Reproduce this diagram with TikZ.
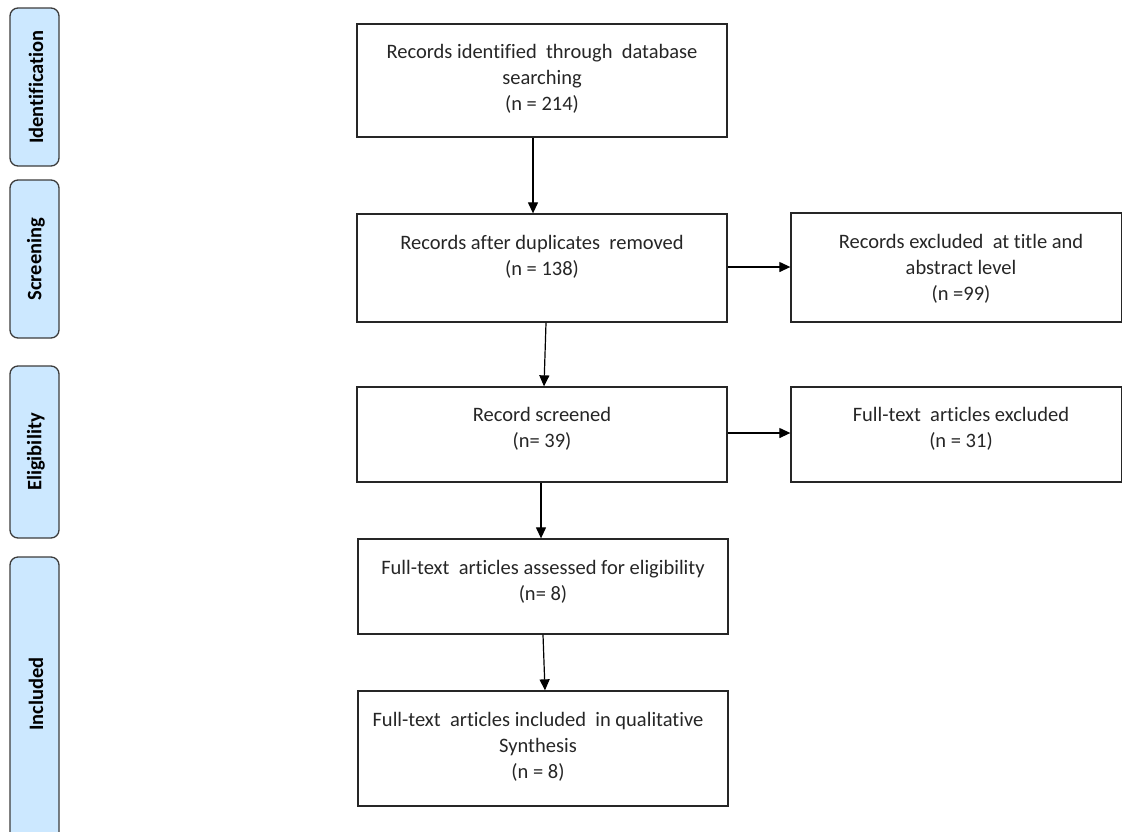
\documentclass[tikz,border=0pt]{standalone}
\usepackage{fontspec}
\setmainfont{Carlito}[RawFeature={-liga}]
\usetikzlibrary{arrows.meta}
\definecolor{phase}{HTML}{CCE8FF}
\definecolor{edgec}{HTML}{3C3C3C}
\definecolor{ink}{HTML}{262626}
\tikzset{
  phasebox/.style={draw=edgec, line width=1.3pt, fill=phase, rounded corners=8pt, minimum width=49pt, inner sep=0pt},
  phasetxt/.style={rotate=90, font=\bfseries\fontsize{20.5}{24}\selectfont, text=black, inner sep=0pt},
  box/.style={draw=black!85, line width=1.3pt, inner sep=0pt},
  txt/.style={align=center, font=\fontsize{20.5}{26}\selectfont, text=ink, inner sep=0pt},
  arr/.style={-{Triangle[length=11pt,width=10pt]}, line width=1.2pt, draw=black}
}
\begin{document}
\begin{tikzpicture}[x=1pt,y=-1pt]
\useasboundingbox (0,0) rectangle (1122,831);
% phase boxes
\node[phasebox, minimum height=158pt] (pid) at (34.5,87) {};
\node[phasetxt] (lid) at (36,87) {Identification};
\node[phasebox, minimum height=158pt] (psc) at (34.5,259) {};
\node[phasetxt] (lsc) at (36,259) {Screening};
\node[phasebox, minimum height=172pt] (pel) at (34.5,452) {};
\node[phasetxt] (lel) at (36,452) {Eligibility};
\node[phasebox, minimum height=290pt] (pin) at (34.5,702) {};
\node[phasetxt] (lin) at (36,694) {Included};
% main boxes
\node[box, minimum width=370pt, minimum height=113pt] (b1) at (542,80.5) {};
\node[txt] (t1) at (542,79) {Records identified\ \ through\ \ database\\searching\\(n = 214)};
\node[box, minimum width=370pt, minimum height=108pt] (b2) at (542,268) {};
\node[txt] (t2) at (542,257) {Records after duplicates\ \ removed\\(n = 138)};
\node[box, minimum width=331pt, minimum height=109pt] (b3) at (956.5,267.5) {};
\node[txt] (t3) at (961,269) {Records excluded\ \ at title and\\abstract level\\(n =99)};
\node[box, minimum width=370pt, minimum height=95pt] (b4) at (542,434.5) {};
\node[txt] (t4) at (542,429) {Record screened\\(n= 39)};
\node[box, minimum width=331pt, minimum height=95pt] (b5) at (956.5,434.5) {};
\node[txt] (t5) at (961,429) {Full-text\ \ articles excluded\\(n = 31)};
\node[box, minimum width=370pt, minimum height=95pt] (b6) at (543,586.5) {};
\node[txt] (t6) at (543,582) {Full-text\ \ articles assessed for eligibility\\(n= 8)};
\node[box, minimum width=370pt, minimum height=115pt] (b7) at (543,748.5) {};
\node[txt] (t7) at (538,747) {Full-text\ \ articles included\ \ in qualitative\\Synthesis\\(n = 8)};
% connector guides
\coordinate (c1) at (533,0);
\coordinate (c2a) at (546,0);
\coordinate (c2b) at (544,0);
\coordinate (c3) at (541,0);
\coordinate (c4a) at (543,0);
\coordinate (c4b) at (545,0);
\coordinate (h1) at (0,267);
\coordinate (h2) at (0,433);
% connectors
\draw[arr] (b1.south -| c1) -- (b2.north -| c1);
\draw[arr] (b2.south -| c2a) -- (b4.north -| c2b);
\draw[arr] (b4.south -| c3) -- (b6.north -| c3);
\draw[arr] (b6.south -| c4a) -- (b7.north -| c4b);
\draw[arr] (b2.east |- h1) -- (b3.west |- h1);
\draw[arr] (b4.east |- h2) -- (b5.west |- h2);
\end{tikzpicture}
\end{document}
